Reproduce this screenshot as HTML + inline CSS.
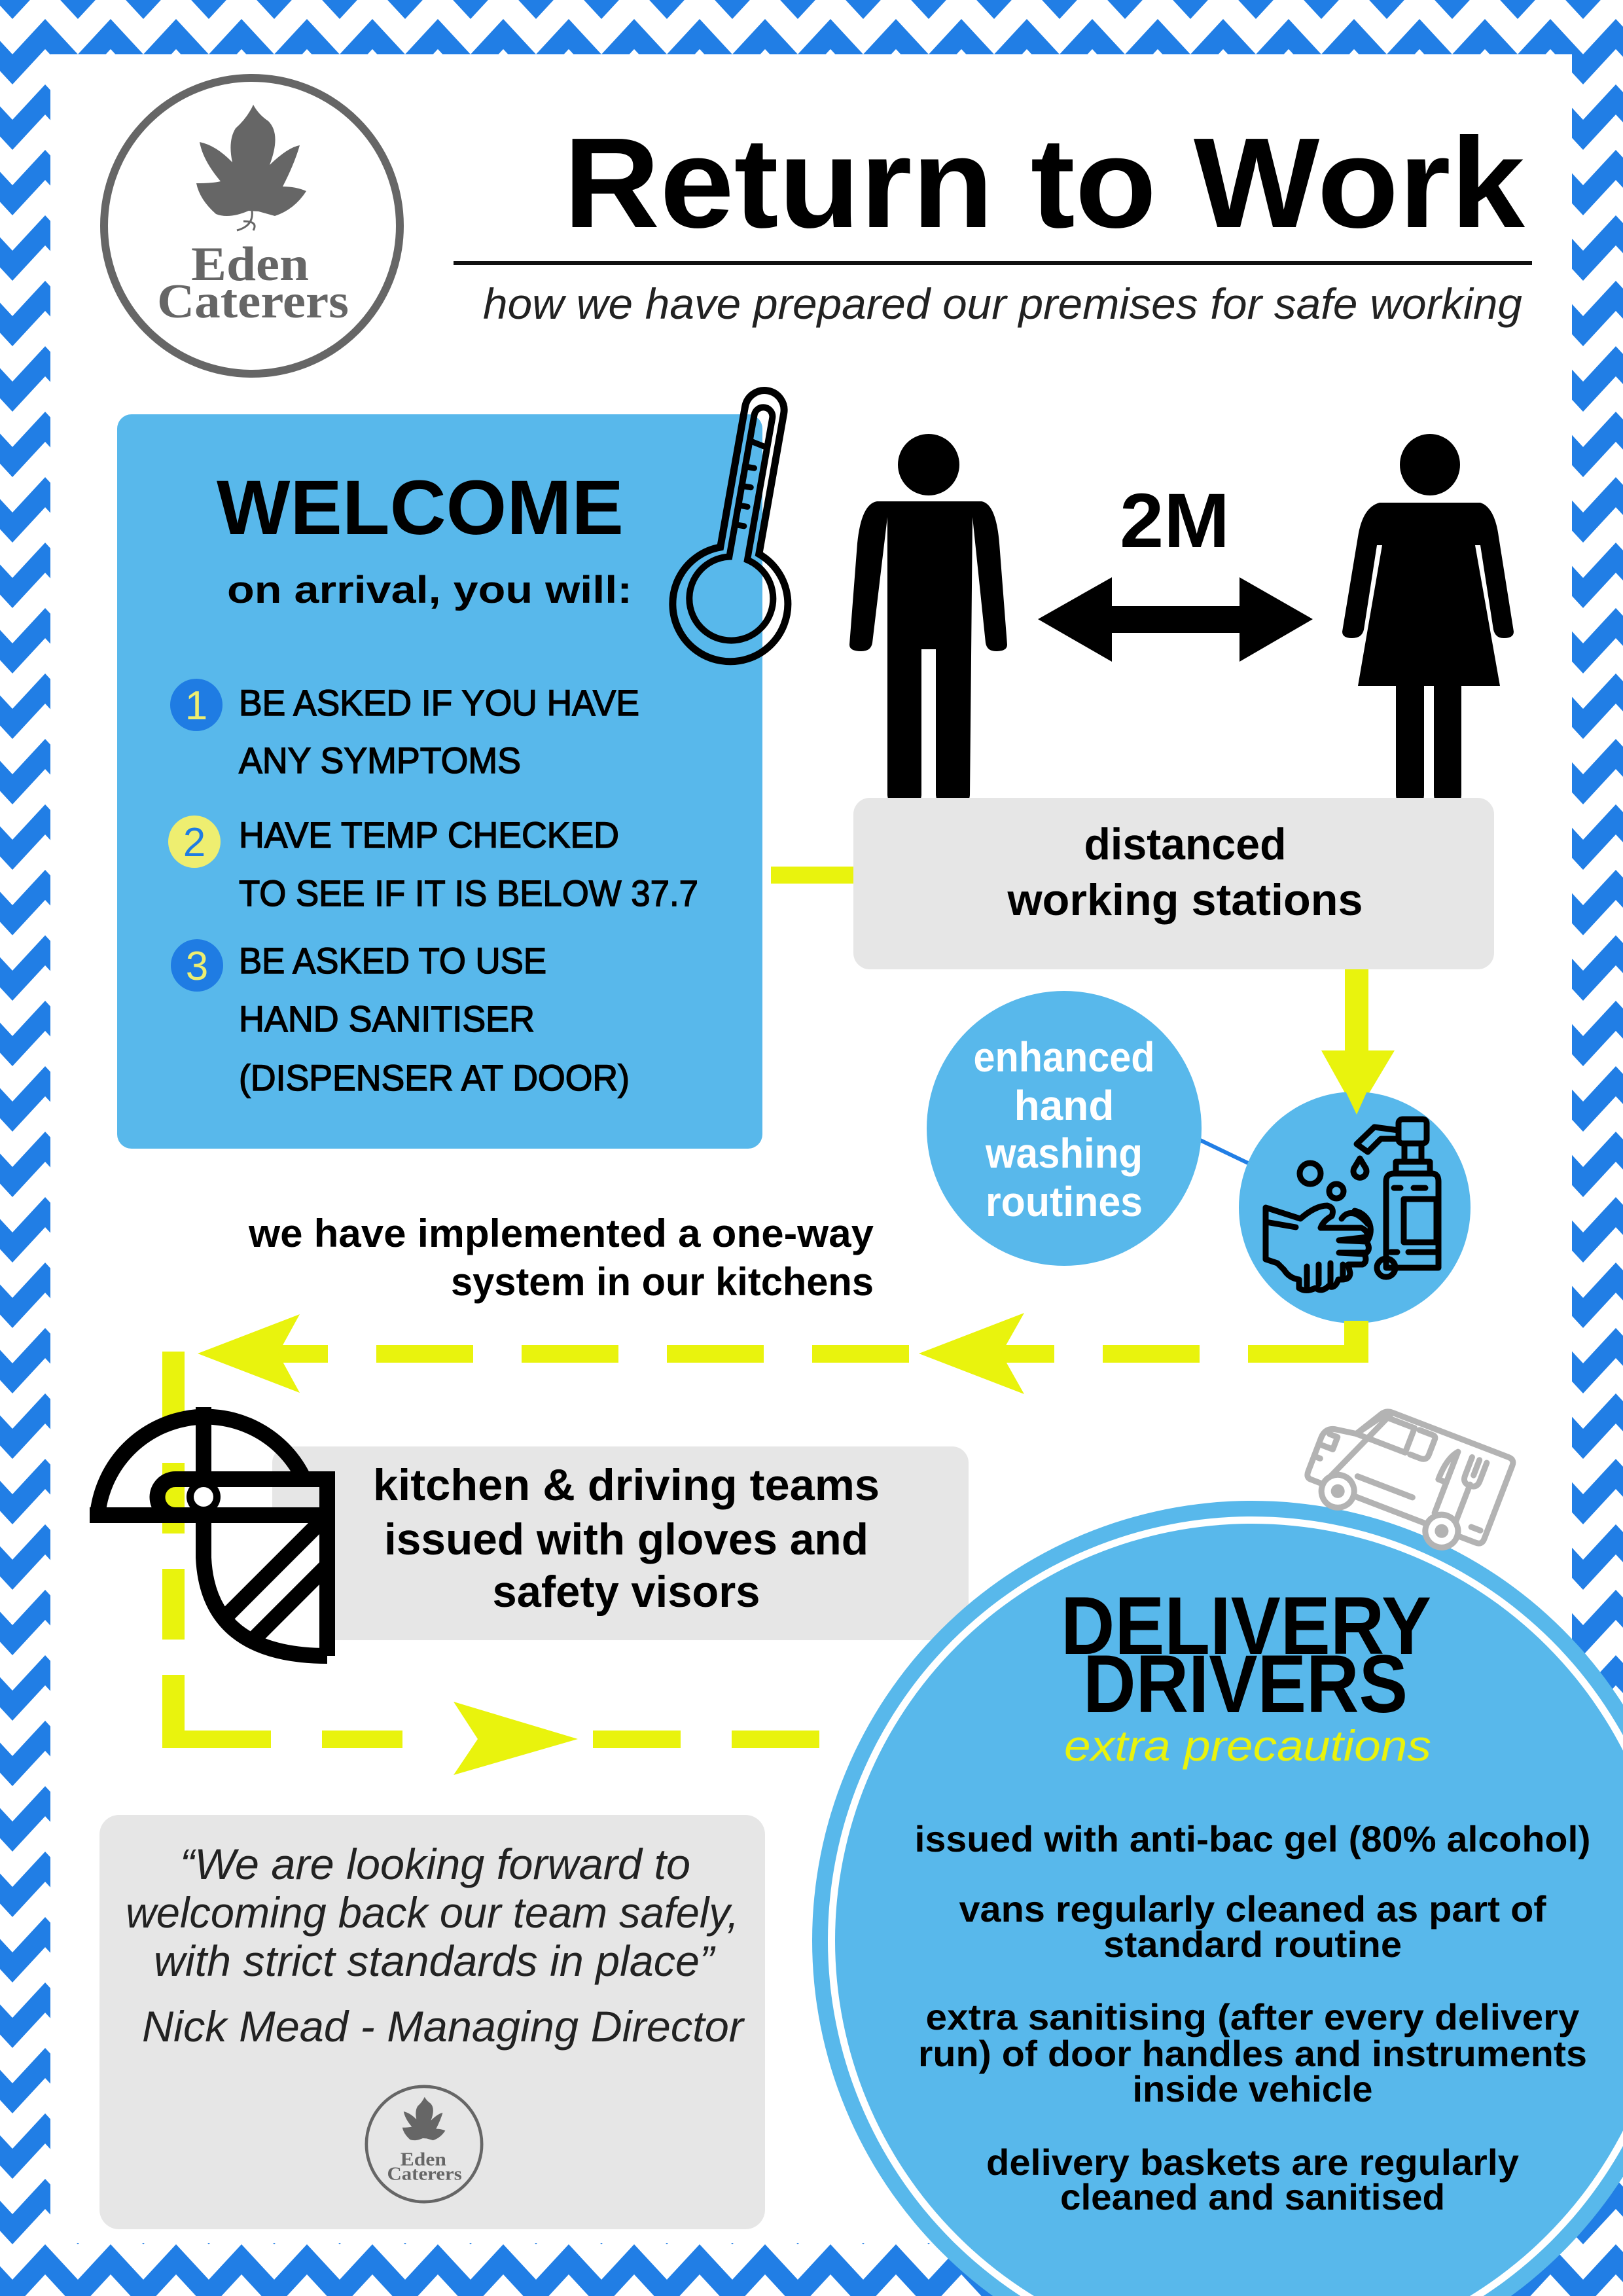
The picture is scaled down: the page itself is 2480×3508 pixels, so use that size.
<!DOCTYPE html>
<html><head><meta charset="utf-8"><style>
html,body{margin:0;padding:0;background:#fff;width:2480px;height:3508px;overflow:hidden}
svg{display:block}
.b{font-weight:bold}
</style></head><body>
<svg width="2480" height="3508" viewBox="0 0 2480 3508" xmlns="http://www.w3.org/2000/svg" font-family="Liberation Sans, sans-serif">
<defs>
<pattern id="chev" x="19" y="29" width="100" height="100" patternUnits="userSpaceOnUse">
<polygon points="0,54 50,0 100,54 100,100 50,46 0,100" fill="#217ee5"/>
</pattern>
<clipPath id="shield"><path d="M311 2327 L500 2327 L500 2530 Q320 2530 311 2380 Z"/></clipPath>
<clipPath id="page"><rect x="0" y="0" width="2480" height="3508"/></clipPath>
</defs>
<rect width="2480" height="3508" fill="#fff"/>
<rect width="2480" height="3508" fill="url(#chev)"/>
<rect x="77" y="83" width="2325" height="3344" fill="#fff"/>

<!-- LOGO -->
<g>
<circle cx="385" cy="345" r="226" fill="none" stroke="#666" stroke-width="12"/>
<path fill="#666" d="M387 160 Q395 175 410 185 Q430 205 412 252 Q440 225 458 222 Q450 250 432 285 Q452 285 468 292 Q450 320 420 330 L395 323 L380 322 Q350 335 330 327 Q305 305 300 280 Q325 280 337 277 Q310 245 305 217 Q330 222 355 248 Q348 215 360 196 Q378 180 387 160 Z"/>
<path d="M385 322 Q388 345 362 352 M372 338 Q395 338 387 352" fill="none" stroke="#666" stroke-width="3"/>
<text x="292" y="428" style="font-family:'Liberation Serif',serif" font-weight="bold" font-size="74" fill="#666" textLength="180" lengthAdjust="spacingAndGlyphs">Eden</text>
<text x="240" y="485" style="font-family:'Liberation Serif',serif" font-weight="bold" font-size="74" fill="#666" textLength="293" lengthAdjust="spacingAndGlyphs">Caterers</text>
</g>

<!-- TITLE -->
<text x="861" y="347" class="b" font-size="196" fill="#000" textLength="1469" lengthAdjust="spacingAndGlyphs">Return to Work</text>
<rect x="693" y="399" width="1648" height="6" fill="#111"/>
<text x="738" y="487" font-size="66" font-style="italic" fill="#222" textLength="1588" lengthAdjust="spacingAndGlyphs">how we have prepared our premises for safe working</text>

<!-- WELCOME BOX -->
<rect x="179" y="633" width="986" height="1122" rx="22" fill="#58b8eb"/>
<text x="331" y="816" class="b" font-size="118" textLength="622" lengthAdjust="spacingAndGlyphs">WELCOME</text>
<text x="347" y="921" class="b" font-size="58" textLength="619" lengthAdjust="spacingAndGlyphs">on arrival, you will:</text>
<circle cx="300" cy="1077" r="40" fill="#1f7ce3"/>
<text x="300" y="1099" text-anchor="middle" font-size="62" fill="#eeee70">1</text>
<circle cx="297" cy="1286" r="40" fill="#eeee70"/>
<text x="297" y="1308" text-anchor="middle" font-size="62" fill="#1f7ce3">2</text>
<circle cx="301" cy="1475" r="40" fill="#1f7ce3"/>
<text x="301" y="1497" text-anchor="middle" font-size="62" fill="#eeee70">3</text>
<g font-size="56" fill="#000" stroke="#000" stroke-width="1.5">
<text x="365" y="1093" textLength="612" lengthAdjust="spacingAndGlyphs">BE ASKED IF YOU HAVE</text>
<text x="365" y="1181" textLength="431" lengthAdjust="spacingAndGlyphs">ANY SYMPTOMS</text>
<text x="365" y="1295" textLength="581" lengthAdjust="spacingAndGlyphs">HAVE TEMP CHECKED</text>
<text x="365" y="1384" textLength="702" lengthAdjust="spacingAndGlyphs">TO SEE IF IT IS BELOW 37.7</text>
<text x="365" y="1487" textLength="470" lengthAdjust="spacingAndGlyphs">BE ASKED TO USE</text>
<text x="365" y="1576" textLength="452" lengthAdjust="spacingAndGlyphs">HAND SANITISER</text>
<text x="365" y="1666" textLength="597" lengthAdjust="spacingAndGlyphs">(DISPENSER AT DOOR)</text>
</g>

<!-- THERMOMETER -->
<g transform="translate(1116,922) rotate(10)" fill="none" stroke="#000" stroke-linecap="round">
<path d="M-30 -82 L-30 -300 A30 30 0 0 1 30 -300 L30 -82 A88 88 0 1 1 -30 -82 Z" stroke-width="11"/>
<path d="M-14 -70 L-14 -290 A14 14 0 0 1 14 -290 L14 -70 A64 64 0 1 1 -14 -70 Z" stroke-width="10"/>
<path d="M-14 -250 L10 -245 M-14 -210 L0 -210 M-14 -180 L0 -180 M-14 -150 L0 -150 M-14 -120 L0 -120" stroke-width="9"/>
</g>

<!-- MAN -->
<g fill="#000">
<ellipse cx="1419" cy="710" rx="47" ry="47"/>
<path d="M1340 766 L1500 766 Q1522 770 1527 830 L1539 985 Q1539 995 1522 995 Q1508 995 1506 982 L1486 790 L1482 1215 Q1480 1235 1455 1235 Q1432 1235 1430 1215 L1430 992 L1408 992 L1408 1215 Q1406 1235 1382 1235 Q1358 1235 1356 1215 L1356 790 L1333 982 Q1331 995 1316 995 Q1298 995 1298 985 L1310 830 Q1316 770 1340 766 Z"/>
</g>
<!-- WOMAN -->
<g fill="#000">
<ellipse cx="2185" cy="710" rx="46" ry="47"/>
<path d="M2108 768 L2262 768 Q2284 775 2290 820 L2313 965 Q2313 975 2298 975 Q2285 975 2282 962 L2262 833 L2254 833 L2292 1048 L2233 1048 L2233 1215 Q2232 1235 2212 1235 Q2192 1235 2191 1215 L2191 1048 L2176 1048 L2176 1215 Q2175 1235 2155 1235 Q2134 1235 2133 1215 L2133 1048 L2075 1048 L2112 833 L2104 833 L2084 962 Q2081 975 2066 975 Q2051 975 2051 965 L2075 820 Q2082 775 2108 768 Z"/>
</g>
<!-- ARROW 2M -->
<polygon points="1586,946 1699,882 1699,926 1894,926 1894,882 2006,946 1894,1011 1894,967 1699,967 1699,1011" fill="#000"/>
<text x="1711" y="836" class="b" font-size="118" textLength="168" lengthAdjust="spacingAndGlyphs">2M</text>

<!-- DISTANCED BOX -->
<rect x="1178" y="1324" width="130" height="26" fill="#e9f30d"/>
<rect x="1304" y="1219" width="979" height="262" rx="25" fill="#e6e6e6"/>
<text x="1811" y="1313" text-anchor="middle" class="b" font-size="68" textLength="309" lengthAdjust="spacingAndGlyphs">distanced</text>
<text x="1811" y="1398" text-anchor="middle" class="b" font-size="68" textLength="543" lengthAdjust="spacingAndGlyphs">working stations</text>
<rect x="2055" y="1481" width="36" height="130" fill="#e9f30d"/>
<polygon points="2019,1605 2131,1605 2073,1702" fill="#e9f30d"/>

<!-- ENHANCED CIRCLE -->
<line x1="1834" y1="1742" x2="1907" y2="1777" stroke="#217ee5" stroke-width="6"/>
<circle cx="1626" cy="1724" r="210" fill="#58b8eb"/>
<g fill="#fff" class="b" font-size="64" text-anchor="middle">
<text x="1626" y="1637" textLength="277" lengthAdjust="spacingAndGlyphs">enhanced</text>
<text x="1626" y="1711">hand</text>
<text x="1626" y="1784" textLength="240" lengthAdjust="spacingAndGlyphs">washing</text>
<text x="1626" y="1858" textLength="240" lengthAdjust="spacingAndGlyphs">routines</text>
</g>
<!-- HANDWASH -->
<circle cx="2070" cy="1845" r="177" fill="#58b8eb"/>
<polygon points="2055,1665 2090,1665 2073,1703" fill="#e9f30d"/>
<g fill="none" stroke="#000" stroke-width="9" stroke-linejoin="round" stroke-linecap="round">
<path d="M2118 1937 L2118 1805 Q2118 1793 2130 1793 L2188 1793 Q2198 1793 2198 1805 L2198 1937 Z"/>
<rect x="2133" y="1775" width="52" height="18"/>
<rect x="2146" y="1747" width="26" height="28"/>
<rect x="2137" y="1710" width="43" height="37" rx="6"/>
<path d="M2137 1727 L2100 1722 L2073 1748 L2090 1760 L2110 1740 L2137 1740"/>
<rect x="2145" y="1832" width="50" height="66"/>
<path d="M2130 1815 L2140 1815 M2160 1815 L2178 1815 M2125 1913 L2135 1913 M2152 1913 L2195 1913"/>
<circle cx="2118" cy="1937" r="14"/>
<path d="M2078 1770 L2069 1785 A10 10 0 1 0 2087 1785 Z"/>
<circle cx="2002" cy="1793" r="16"/>
<circle cx="2042" cy="1820" r="11"/>
<path d="M1934 1845 L1987 1862 Q2010 1842 2028 1842 Q2040 1845 2035 1858 Q2022 1865 2018 1876 L2080 1876 Q2090 1880 2090 1890 L2046 1895 L2088 1897 Q2095 1908 2088 1914 L2046 1914 L2085 1916 Q2090 1928 2082 1932 L2060 1932 L2063 1945 Q2063 1955 2050 1955 L2045 1955 Q2040 1970 2030 1965 Q2020 1975 2010 1968 Q1995 1975 1985 1968 L1985 1955 Q1970 1953 1962 1940 L1952 1930 L1934 1924 Z"/>
<path d="M1997 1935 L1997 1965 M2015 1932 L2015 1962 M2033 1930 L2033 1960 M2052 1932 L2052 1950"/>
<path d="M1934 1867 L1980 1875"/>
<path d="M2050 1862 Q2058 1850 2072 1855 Q2082 1860 2090 1870 M2070 1850 A30 30 0 0 1 2090 1895"/>
</g>

<!-- ONE WAY TEXT -->
<text x="1335" y="1905" text-anchor="end" class="b" font-size="60" textLength="955" lengthAdjust="spacingAndGlyphs">we have implemented a one-way</text>
<text x="1335" y="1979" text-anchor="end" class="b" font-size="60" textLength="646" lengthAdjust="spacingAndGlyphs">system in our kitchens</text>

<!-- DASHED PATH -->
<g fill="#e9f30d">
<rect x="2054" y="2018" width="37" height="64"/>
<rect x="1907" y="2055" width="184" height="27"/>
<rect x="1685" y="2055" width="148" height="27"/>
<rect x="1463" y="2055" width="148" height="27"/>
<rect x="1241" y="2055" width="148" height="27"/>
<rect x="1019" y="2055" width="148" height="27"/>
<rect x="797" y="2055" width="148" height="27"/>
<rect x="575" y="2055" width="148" height="27"/>
<rect x="353" y="2055" width="148" height="27"/>
<polygon points="1404,2068 1565,2006 1530,2068 1565,2130"/>
<polygon points="302,2068 458,2008 425,2068 458,2128"/>
<rect x="248" y="2065" width="34" height="115"/>
<rect x="248" y="2235" width="34" height="108"/>
<rect x="248" y="2397" width="34" height="108"/>
<rect x="248" y="2559" width="34" height="112"/>
<rect x="248" y="2644" width="166" height="27"/>
<rect x="492" y="2644" width="123" height="27"/>
<polygon points="883,2657 693,2600 730,2657 693,2712"/>
<rect x="906" y="2644" width="134" height="27"/>
<rect x="1118" y="2644" width="134" height="27"/>
</g>

<!-- GLOVES BOX -->
<rect x="416" y="2210" width="1064" height="296" rx="25" fill="#e6e6e6"/>
<g class="b" font-size="68" text-anchor="middle">
<text x="957" y="2292" textLength="774" lengthAdjust="spacingAndGlyphs">kitchen &amp; driving teams</text>
<text x="957" y="2375" textLength="740" lengthAdjust="spacingAndGlyphs">issued with gloves and</text>
<text x="957" y="2455" textLength="409" lengthAdjust="spacingAndGlyphs">safety visors</text>
</g>
<!-- VISOR -->
<path d="M311 2327 L500 2327 L500 2530 Q320 2530 311 2380 Z" fill="#fff"/>
<g fill="none" stroke="#000" stroke-width="24">
<path d="M149 2315 A166 166 0 0 1 462 2255"/>
<line x1="137" y1="2315" x2="311" y2="2315"/>
<line x1="311" y1="2150" x2="311" y2="2260"/>
<path d="M268 2260 L500 2260 L500 2530 M268 2260 A27 27 0 0 0 268 2315 L500 2315"/>
<path d="M311 2315 L311 2380 Q318 2530 500 2530"/>
<g clip-path="url(#shield)"><line x1="500" y1="2315" x2="340" y2="2475"/><line x1="500" y1="2392" x2="380" y2="2512"/></g>
</g>
<circle cx="311" cy="2287" r="26" fill="#000"/>
<circle cx="311" cy="2287" r="15" fill="#fff"/>

<!-- DELIVERY CIRCLE -->
<g clip-path="url(#page)">
<circle cx="1913" cy="2965" r="672" fill="#58b8eb"/>
<circle cx="1913" cy="2965" r="648" fill="#fff"/>
<circle cx="1913" cy="2965" r="637" fill="#58b8eb"/>
</g>

<!-- VAN -->
<g transform="translate(2140,2238) rotate(21)" fill="none" stroke="#b3b3b3" stroke-width="9" stroke-linecap="round" stroke-linejoin="round">
<path d="M-40 -70 L150 -70 Q160 -70 160 -60 L160 60 Q160 70 150 70 L125 70 M65 70 L-50 70 M-100 70 L-120 70 Q-128 70 -128 60 L-128 5 Q-128 -12 -112 -15 L-80 -20 L-55 -62 Q-50 -70 -40 -70 Z" fill="#fff"/>
<path d="M-80 -20 L0 -20 L0 -60 L-52 -60 Z"/>
<path d="M8 -60 L30 -60 Q35 -60 35 -55 L35 -30 Q35 -20 25 -20 L8 -20"/>
<circle cx="-75" cy="72" r="25" fill="#fff"/><circle cx="-75" cy="72" r="6" fill="#b3b3b3"/>
<circle cx="95" cy="72" r="25" fill="#fff"/><circle cx="95" cy="72" r="6" fill="#b3b3b3"/>
<path d="M-55 40 L35 40"/>
<path d="M75 50 L75 -50 Q62 -35 62 0 L75 0 M110 50 L110 -10 M98 -50 L98 -20 Q98 -8 110 -8 Q122 -8 122 -20 L122 -50 M110 -50 L110 -25"/>
<path d="M-118 -5 L-105 -5 L-105 15 L-122 15 M-128 35 L-118 35 M150 50 L135 50"/>
</g>

<text x="1621" y="2527" class="b" font-size="125" textLength="566" lengthAdjust="spacingAndGlyphs">DELIVERY</text>
<text x="1655" y="2616" class="b" font-size="125" textLength="496" lengthAdjust="spacingAndGlyphs">DRIVERS</text>
<text x="1626" y="2690" font-size="66" font-style="italic" fill="#e9f30d" textLength="561" lengthAdjust="spacingAndGlyphs">extra precautions</text>
<g class="b" font-size="56" text-anchor="middle">
<text x="1914" y="2829" textLength="1033" lengthAdjust="spacingAndGlyphs">issued with anti-bac gel (80% alcohol)</text>
<text x="1914" y="2936" textLength="897" lengthAdjust="spacingAndGlyphs">vans regularly cleaned as part of</text>
<text x="1914" y="2990" textLength="456" lengthAdjust="spacingAndGlyphs">standard routine</text>
<text x="1914" y="3101" textLength="999" lengthAdjust="spacingAndGlyphs">extra sanitising (after every delivery</text>
<text x="1914" y="3157" textLength="1022" lengthAdjust="spacingAndGlyphs">run) of door handles and instruments</text>
<text x="1914" y="3211" textLength="367" lengthAdjust="spacingAndGlyphs">inside vehicle</text>
<text x="1914" y="3323" textLength="814" lengthAdjust="spacingAndGlyphs">delivery baskets are regularly</text>
<text x="1914" y="3376" textLength="588" lengthAdjust="spacingAndGlyphs">cleaned and sanitised</text>
</g>

<!-- QUOTE BOX -->
<rect x="152" y="2773" width="1017" height="633" rx="30" fill="#e6e6e6"/>
<g font-size="66" font-style="italic" fill="#222">
<text x="275" y="2871" textLength="780" lengthAdjust="spacingAndGlyphs">“We are looking forward to</text>
<text x="192" y="2945" textLength="937" lengthAdjust="spacingAndGlyphs">welcoming back our team safely,</text>
<text x="235" y="3019" textLength="856" lengthAdjust="spacingAndGlyphs">with strict standards in place”</text>
<text x="217" y="3119" textLength="919" lengthAdjust="spacingAndGlyphs">Nick Mead - Managing Director</text>
</g>
<g transform="translate(648,3276) scale(0.39) translate(-385,-345)">
<circle cx="385" cy="345" r="226" fill="none" stroke="#666" stroke-width="12"/>
<path fill="#666" d="M387 160 Q395 175 410 185 Q430 205 412 252 Q440 225 458 222 Q450 250 432 285 Q452 285 468 292 Q450 320 420 330 L395 323 L380 322 Q350 335 330 327 Q305 305 300 280 Q325 280 337 277 Q310 245 305 217 Q330 222 355 248 Q348 215 360 196 Q378 180 387 160 Z"/>
<text x="292" y="428" style="font-family:'Liberation Serif',serif" font-weight="bold" font-size="74" fill="#666" textLength="180" lengthAdjust="spacingAndGlyphs">Eden</text>
<text x="240" y="485" style="font-family:'Liberation Serif',serif" font-weight="bold" font-size="74" fill="#666" textLength="293" lengthAdjust="spacingAndGlyphs">Caterers</text>
</g>
</svg>
</body></html>
